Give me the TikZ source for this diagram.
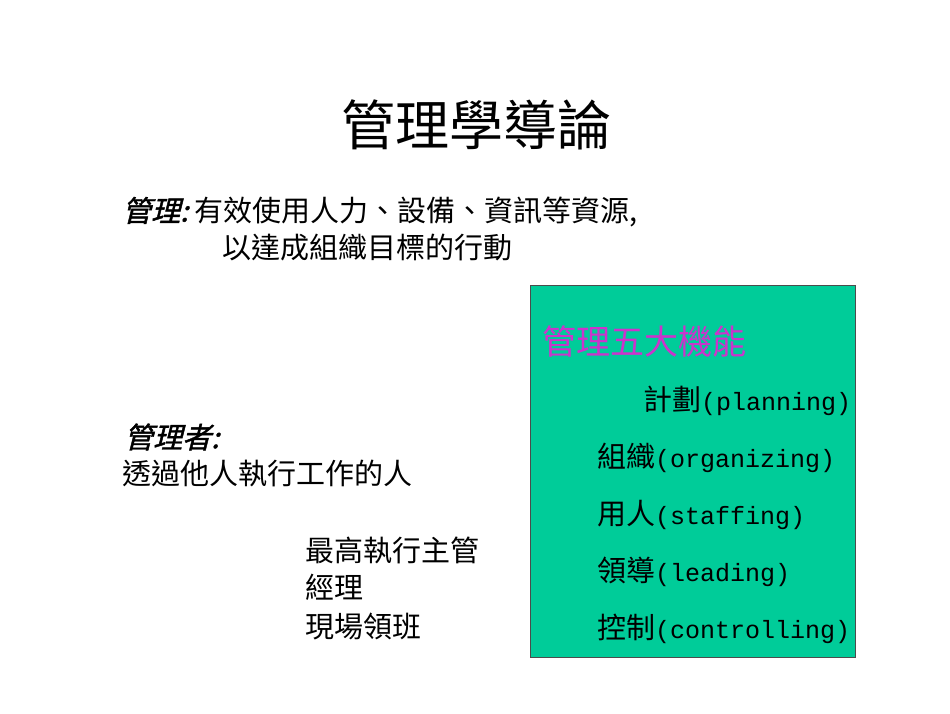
\documentclass[tikz,border=0pt]{standalone}
\usepackage{fontspec}
\setmainfont{Noto Sans CJK TC}
\newfontfamily\cjkit[FakeSlant=0.25,FakeBold=1.5]{Noto Sans CJK TC}
\newfontfamily\mono{Liberation Mono}
\definecolor{boxgreen}{HTML}{00CC99}
\definecolor{purp}{HTML}{CC33CC}
\tikzset{t/.style={anchor=west,inner sep=0pt,font=\fontsize{29}{32}\selectfont},
 lat/.style={}}
\newcommand{\lt}[1]{{\mono\fontsize{25}{30}\selectfont #1}}
\begin{document}
\begin{tikzpicture}[x=1pt,y=-1pt]
\useasboundingbox (0,0) rectangle (950,713);
\node[inner sep=0pt,font=\fontsize{54}{60}\selectfont] (title) at (476,125) {管理學導論};
\node[t] (d1) at (122,212) {{\cjkit 管理:}\ 有效使用人力、設備、資訊等資源,};
\node[t] (d2) at (222,248) {以達成組織目標的行動};
\draw[fill=boxgreen,draw=black!70] (530,285) rectangle (855,657);
\node[anchor=west,inner sep=0pt,text=purp,font=\fontsize{34}{38}\selectfont] (h) at (542,341) {管理五大機能};
\node[t] (i1) at (643,401) {計劃\lt{(planning)}};
\node[t] (i2) at (597,458) {組織\lt{(organizing)}};
\node[t] (i3) at (597,515) {用人\lt{(staffing)}};
\node[t] (i4) at (597,572) {領導\lt{(leading)}};
\node[t] (i5) at (597,629) {控制\lt{(controlling)}};
\node[t] (m1) at (124,437) {\cjkit 管理者:};
\node[t] (m2) at (122,473) {透過他人執行工作的人};
\node[t] (l1) at (305,550) {最高執行主管};
\node[t] (l2) at (305,587) {經理};
\node[t] (l3) at (305,626) {現場領班};
\end{tikzpicture}
\end{document}
